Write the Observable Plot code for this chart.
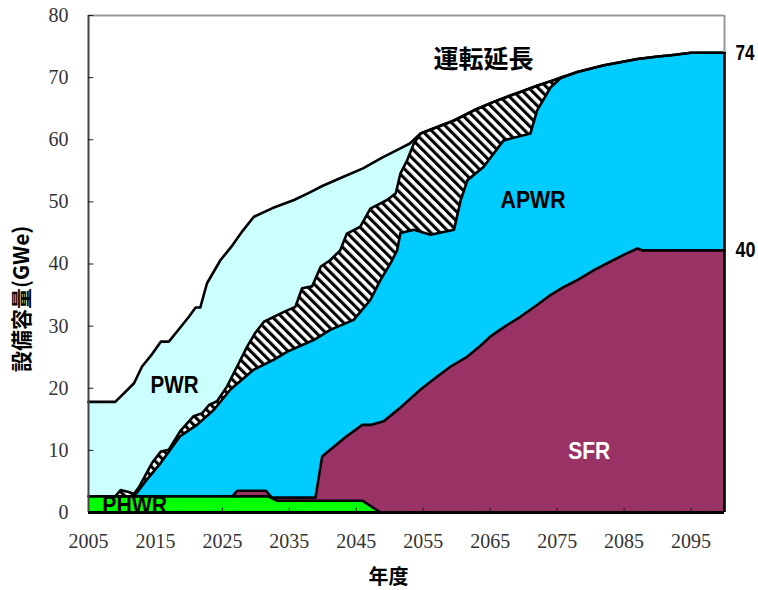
<!DOCTYPE html>
<html>
<head>
<meta charset="utf-8">
<script src="https://cdn.jsdelivr.net/npm/d3@7"></script>
<script src="https://cdn.jsdelivr.net/npm/@observablehq/plot@0.6"></script>
<style>
  html, body { margin: 0; padding: 0; background: #ffffff; }
  svg { display: block; }
</style>
</head>
<body>
<div id="chart"></div>
<script>
// ---- data (GWe, cumulative top of each layer) ----
const xTicks = [2005, 2015, 2025, 2035, 2045, 2055, 2065, 2075, 2085, 2095];
const yTicks = [0, 10, 20, 30, 40, 50, 60, 70, 80];

// total (top of PWR)
const totalYears = [2005, 2009, 2011.8, 2013, 2014.5, 2015.8, 2017, 2018.5, 2020, 2021, 2021.7, 2022.7, 2024.7, 2026.5, 2028, 2029.7, 2032.5, 2035.7, 2038, 2040, 2043, 2046, 2049, 2051, 2053, 2054.6, 2057, 2059.6, 2062.5, 2065.5, 2069.5, 2072, 2074.5, 2076, 2078, 2082, 2087, 2090, 2092, 2095, 2100];
const totalGWe   = [17.8, 17.8, 20.8, 23.5, 25.5, 27.5, 27.5, 29.5, 31.5, 33.0, 33.0, 36.9, 40.6, 43.0, 45.3, 47.6, 49.0, 50.3, 51.5, 52.6, 54.0, 55.4, 57.2, 58.3, 59.4, 61.0, 62.0, 63.1, 64.7, 66.1, 67.7, 68.7, 69.6, 70.2, 70.9, 72.0, 73.0, 73.4, 73.6, 74.0, 74.0];

// top of 運転延長 (hatched) layer
const extYears = [2009, 2009.8, 2011, 2011.8, 2012.5, 2014.5, 2015.8, 2017, 2018.7, 2020.7, 2022, 2023, 2024.2, 2025.7, 2027.2, 2028.7, 2029.9, 2031.2, 2034.2, 2035.9, 2036.9, 2038.4, 2039.7, 2041.1, 2042.6, 2043.6, 2045.6, 2047.1, 2049.6, 2050.9, 2051.6, 2052.6, 2053.6, 2054.6, 2057, 2059.6, 2062.5, 2065.5, 2069.5, 2072, 2074.5, 2076];
const extGWe   = [2.6, 3.6, 3.3, 3.0, 4.0, 8.0, 9.8, 10.1, 13.1, 15.5, 16.0, 17.3, 17.9, 20.3, 23.5, 26.7, 28.9, 30.7, 32.3, 33.1, 36.1, 36.4, 39.6, 40.6, 42.2, 44.9, 46.0, 48.9, 50.3, 51.4, 54.6, 56.7, 59.4, 61.0, 62.0, 63.1, 64.7, 66.1, 67.7, 68.7, 69.6, 70.2];

// top of APWR layer
const apwrYears = [2011.8, 2013.5, 2015.8, 2018.7, 2021.2, 2023.7, 2026.2, 2029.7, 2032.7, 2034.7, 2038.7, 2041.1, 2044.6, 2047.1, 2048.6, 2050.1, 2051.1, 2051.6, 2053.6, 2056.1, 2059.6, 2060.6, 2061.6, 2064, 2067, 2071, 2072, 2074, 2075.5, 2078, 2082, 2087, 2090, 2092, 2095, 2100];
const apwrGWe   = [2.6, 5.0, 8.0, 12.3, 14.1, 16.5, 19.8, 23.0, 24.6, 25.9, 27.8, 29.4, 31.0, 34.2, 37.4, 40.1, 42.2, 45.0, 45.5, 44.7, 45.5, 50.3, 53.5, 55.6, 59.9, 61.0, 64.7, 68.4, 69.9, 70.9, 72.0, 73.0, 73.4, 73.6, 74.0, 74.0];

// top of SFR layer
const sfrYears = [2026.5, 2027.2, 2031.5, 2032.4, 2038.9, 2039.9, 2041.1, 2043.6, 2045.9, 2047.1, 2049.1, 2051.5, 2054.6, 2057, 2059.1, 2061.6, 2063.5, 2065, 2067, 2069.5, 2072, 2074, 2076, 2078, 2080.5, 2083, 2085, 2087, 2087.7, 2100];
const sfrGWe   = [2.6, 3.5, 3.5, 2.4, 2.4, 9.0, 10.1, 12.3, 14.1, 14.1, 14.7, 16.8, 19.8, 21.8, 23.5, 25.1, 26.8, 28.3, 29.8, 31.5, 33.4, 35.0, 36.3, 37.4, 39.0, 40.4, 41.5, 42.5, 42.2, 42.2];

// top of PHWR layer
const phwrYears = [2005, 2031.8, 2033.2, 2045.9, 2048.6];
const phwrGWe   = [2.6, 2.6, 1.9, 1.9, 0];

const rows = (xs, ys) => xs.map((x, i) => ({x, y: ys[i]}));
const total = rows(totalYears, totalGWe);
const ext = rows(extYears, extGWe);
const apwr = rows(apwrYears, apwrGWe);
const sfr = rows(sfrYears, sfrGWe);
const phwr = rows(phwrYears, phwrGWe);

const sans = "'Liberation Sans', Arial, sans-serif";
const cjk = "'Noto Sans CJK JP', 'Noto Sans CJK SC', sans-serif";
const lineW = 2.6;
const lastTotal = totalGWe[totalGWe.length - 1];
const lastSfr = sfrGWe[sfrGWe.length - 1];

const label = (txt, opts) => Plot.text([txt], {fontWeight: "bold", fontFamily: sans, fill: "#000", ...opts});

const chart = Plot.plot({
  width: 758,
  height: 590,
  marginLeft: 88,
  marginRight: 34,
  marginTop: 15,
  marginBottom: 78,
  style: {background: "#ffffff", overflow: "visible"},
  x: {domain: [2005, 2100]},
  y: {domain: [0, 80]},
  marks: [
    // filled layers (painted from the top layer down)
    Plot.areaY(total, {x: "x", y: "y", fill: "#ccffff"}),
    Plot.areaY(ext, {x: "x", y: "y", fill: "url(#hatch)"}),
    Plot.areaY(apwr, {x: "x", y: "y", fill: "#00ccff"}),
    Plot.areaY(sfr, {x: "x", y: "y", fill: "#993366"}),
    Plot.areaY(phwr, {x: "x", y: "y", fill: "#00ff00"}),
    // outlines
    Plot.line(total, {x: "x", y: "y", stroke: "#000", strokeWidth: lineW, strokeLinejoin: "round"}),
    Plot.line(ext, {x: "x", y: "y", stroke: "#000", strokeWidth: lineW, strokeLinejoin: "round"}),
    Plot.line(apwr, {x: "x", y: "y", stroke: "#000", strokeWidth: lineW, strokeLinejoin: "round"}),
    Plot.line(sfr, {x: "x", y: "y", stroke: "#000", strokeWidth: lineW, strokeLinejoin: "round"}),
    Plot.line(phwr, {x: "x", y: "y", stroke: "#000", strokeWidth: lineW, strokeLinejoin: "round"}),
    // frame
    Plot.ruleY([80], {stroke: "#999", strokeWidth: 2}),
    Plot.ruleX([2100], {y1: lastTotal, y2: 80, stroke: "#999", strokeWidth: 2}),
    Plot.ruleX([2100], {y1: 0, y2: lastTotal, stroke: "#000", strokeWidth: 2.6}),
    Plot.ruleX([2005], {stroke: "#444", strokeWidth: 2}),
    // inward ticks
    Plot.ruleX(xTicks.slice(1), {y1: 0, y2: 0.7, stroke: "#222", strokeWidth: 1}),
    Plot.ruleY(yTicks.slice(1), {x1: 2005, x2: 2005.8, stroke: "#222", strokeWidth: 1}),
    Plot.ruleY([0], {stroke: "#000", strokeWidth: 3}),
    // axes
    Plot.axisX(xTicks, {tickSize: 0, tickPadding: 21, tickFormat: d => String(d), fontSize: 20, fontFamily: "'Liberation Serif', serif", fill: "#333", label: null}),
    Plot.axisY(yTicks, {tickSize: 0, tickPadding: 20, tickFormat: d => String(d), fontSize: 20, fontFamily: "'Liberation Serif', serif", fill: "#333", label: null}),
    // axis titles
    Plot.text(["年度"], {frameAnchor: "bottom", dx: -18, dy: 71, fontSize: 20, fontWeight: "bold", fontFamily: cjk, fill: "#000"}),
    Plot.text(["設備容量(GWe)"], {x: 1995.15, y: 34.4, rotate: -90, fontSize: 21, fontWeight: "bold", fontFamily: cjk, fill: "#000", className: "ytitle"}),
    // region labels
    label("PWR", {x: 2017.85, y: 20.4, fontSize: 23, className: "lab-pwr"}),
    label("APWR", {x: 2071.4, y: 50.2, fontSize: 23, className: "lab-apwr"}),
    label("SFR", {x: 2079.8, y: 9.8, fontSize: 24, fill: "#fff", className: "lab-sfr"}),
    label("PHWR", {x: 2011.9, y: 1.1, fontSize: 24, className: "lab-phwr"}),
    Plot.text(["運転延長"], {x: 2064.0, y: 72.8, fontSize: 25, fontWeight: "bold", fontFamily: cjk, fill: "#000"}),
    label("74", {x: 2100, y: lastTotal, dx: 11, textAnchor: "start", fontSize: 22, className: "lab-74"}),
    label("40", {x: 2100, y: lastSfr, dx: 11, textAnchor: "start", fontSize: 22, className: "lab-40"})
  ]
});

// hatch pattern for 運転延長
const svg = d3.select(chart);
const defs = svg.insert("defs", ":first-child");
const pat = defs.append("pattern")
  .attr("id", "hatch")
  .attr("patternUnits", "userSpaceOnUse")
  .attr("width", 6.6)
  .attr("height", 6.6)
  .attr("patternTransform", "rotate(-45)");
pat.append("rect").attr("width", 6.6).attr("height", 6.6).attr("fill", "#ffffff");
pat.append("rect").attr("width", 3.1).attr("height", 6.6).attr("fill", "#000000");

document.getElementById("chart").appendChild(chart);

// narrow the bold Latin labels (the source uses a condensed face)
const narrowWidths = {"lab-pwr": 48, "lab-apwr": 65, "lab-sfr": 42, "lab-phwr": 65, "lab-74": 19, "lab-40": 20};
for (const [cls, w] of Object.entries(narrowWidths)) {
  svg.selectAll(`.${cls} text`).attr("textLength", w).attr("lengthAdjust", "spacingAndGlyphs");
}
</script>
</body>
</html>
